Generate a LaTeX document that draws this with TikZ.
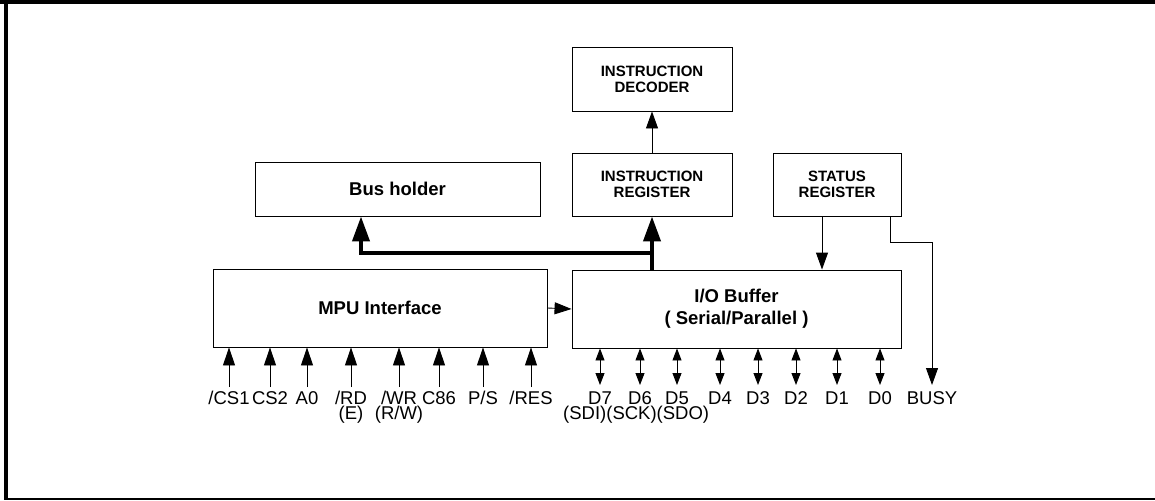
\documentclass[tikz,border=0pt]{standalone}
\usepackage{fontspec}
\setmainfont{Liberation Sans}
\usetikzlibrary{arrows.meta}
\begin{document}
\begin{tikzpicture}[x=1pt,y=-1pt,
  blk/.style={draw=black,line width=0.9pt,fill=white,inner sep=0pt,align=center,
    font=\fontsize{18.5}{22}\selectfont\bfseries},
  reg/.style={blk,font=\fontsize{15}{16}\selectfont\bfseries},
  pinlbl/.style={anchor=base,inner sep=0pt,font=\fontsize{18.5}{15}\selectfont},
  toplbl/.style={pinlbl,text depth=0pt},
  arr/.style={line width=0.9pt,-{Triangle[length=17pt,width=12pt]}},
  pin/.style={line width=0.9pt,-{Triangle[length=18pt,width=12pt]}},
  dpin/.style={line width=0.9pt,{Triangle[length=12pt,width=9pt]}-{Triangle[length=12pt,width=9pt]}},
  busln/.style={line width=4pt,-{Triangle[length=25pt,width=17pt]}}]
\useasboundingbox (0,0) rectangle (1155,500);
% outer frame
\draw[line width=4pt] (0,2) -- (1155,2);
\draw[line width=4pt] (6,0) -- (6,500);
\draw[line width=1.2pt] (6,499) -- (1155,499);

% blocks
\node[reg,minimum width=160pt,minimum height=64pt] (dec) at (652,79) {INSTRUCTION\\DECODER};
\node[reg,minimum width=160pt,minimum height=63pt] (ir) at (652,184.5) {INSTRUCTION\\REGISTER};
\node[reg,minimum width=128pt,minimum height=63pt] (sr) at (837,184.5) {STATUS\\REGISTER};
\node[blk,minimum width=285pt,minimum height=54pt] (hold) at (397.5,189) {Bus holder};
\node[blk,minimum width=334pt,minimum height=78pt] (mpu) at (380,308) {MPU Interface};
\node[blk,minimum width=329pt,minimum height=78pt] (io) at (736.5,309) {I/O Buffer\\( Serial/Parallel )};

% internal connections
\draw[arr] (ir) -- (dec);
\draw[arr] (mpu.east) -- (io.west);
\coordinate (sa) at (822,216);
\draw[arr] (sa) -- (sa |- io.north);

% data bus
\coordinate (jn) at (652,253);
\coordinate (hb) at (361,253);
\draw[busln] (io.north -| ir) -- (ir.south);
\draw[busln] (jn) -- (hb) -- (hb |- hold.south);

% BUSY output
\coordinate (bz) at (890,216);
\coordinate (by) at (932,385);
\node[toplbl] (busy) at (932,404) {BUSY};
\draw[arr] (bz) -- (890,242) -| (by);

% MPU interface pins
\foreach \x/\t/\n in {229/{/CS1}/a, 270/{CS2}/b, 307/{A0}/c, 351/{/RD}/d,
    399/{/WR}/e, 439/{C86}/f, 483/{P/S}/g, 531/{/RES}/h}{
  \node[toplbl] (m\n) at (\x,404) {\t};
  \coordinate (mc\n) at (\x,387);
  \draw[pin] (mc\n) -- (mc\n |- mpu.south);
}
\node[pinlbl] (md2) at (351,419) {(E)};
\node[pinlbl] (me2) at (399,419) {(R/W)};

% data pins
\foreach \x/\t/\n in {600/{D7}/7, 640/{D6}/6, 677/{D5}/5,
    720/{D4}/4, 758/{D3}/3, 796/{D2}/2, 837/{D1}/1, 880/{D0}/0}{
  \node[toplbl] (d\n) at (\x,404) {\t};
  \coordinate (dc\n) at (\x,385);
  \draw[dpin] (dc\n) -- (dc\n |- io.south);
}
\node[pinlbl,anchor=base west] (ser) at (563,419) {(SDI)(SCK)(SDO)};
\end{tikzpicture}
\end{document}
